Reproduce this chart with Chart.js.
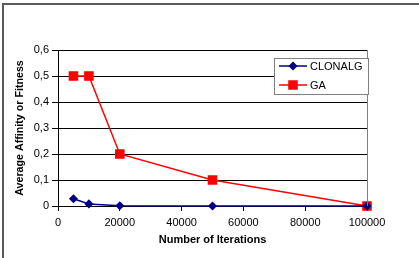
<!DOCTYPE html>
<html>
<head>
<meta charset="utf-8">
<script src="https://cdn.jsdelivr.net/npm/chart.js@4/dist/chart.umd.min.js"></script>
<style>
html,body{margin:0;padding:0;background:#fff;}
#wrap{position:relative;width:419px;height:258px;}
</style>
</head>
<body>
<div id="wrap"><canvas id="c" width="419" height="258"></canvas></div>
<script>
const iterations = [5000, 10000, 20000, 50000, 100000];
const clonalg = [0.028, 0.008, 0.001, 0.0, 0.0];
const ga = [0.5, 0.5, 0.2, 0.1, 0.0];
const seriesLabels = ['CLONALG', 'GA'];
const xTitle = 'Number of Iterations';
const yTitle = 'Average Affinity or Fitness';

const FONT = '"Liberation Sans", Arial, sans-serif';

const toPts = (xs, ys) => xs.map((x, i) => ({x: x, y: ys[i]}));

const framePlugin = {
  id: 'frame',
  beforeDraw(chart) {
    const ctx = chart.ctx;
    ctx.save();
    ctx.fillStyle = '#fff';
    ctx.fillRect(0, 0, chart.width, chart.height);
    ctx.strokeStyle = '#5a5a5a';
    ctx.lineWidth = 2;
    ctx.beginPath();
    ctx.moveTo(3, 258);
    ctx.lineTo(3, 4);
    ctx.lineTo(419, 4);
    ctx.stroke();
    ctx.restore();
  },
  afterDatasetsDraw(chart) {
    const ctx = chart.ctx;
    const a = chart.chartArea;
    ctx.save();
    ctx.strokeStyle = '#808080';
    ctx.lineWidth = 1;
    ctx.beginPath();
    ctx.moveTo(Math.round(a.right) + 0.5, a.top);
    ctx.lineTo(Math.round(a.right) + 0.5, a.bottom);
    ctx.stroke();
    // legend
    const bx = 274.5, by = 58.5, bw = 94, bh = 36;
    ctx.fillStyle = '#fff';
    ctx.fillRect(bx, by, bw, bh);
    ctx.strokeStyle = '#808080';
    ctx.strokeRect(bx, by, bw, bh);
    const ys = [66, 85];
    chart.data.datasets.forEach((ds, i) => {
      const y = ys[i];
      ctx.strokeStyle = ds.borderColor;
      ctx.lineWidth = 1.5;
      ctx.beginPath();
      ctx.moveTo(279, y);
      ctx.lineTo(307, y);
      ctx.stroke();
      Chart.helpers.drawPoint(ctx, {
        pointStyle: ds.pointStyle,
        radius: ds.pointRadius,
        borderWidth: 1,
        rotation: 0
      }, 293, y);
      ctx.fillStyle = ds.pointBackgroundColor;
      ctx.strokeStyle = ds.pointBorderColor;
      ctx.fill();
      ctx.fillStyle = '#000';
      ctx.font = '11px ' + FONT;
      ctx.textBaseline = 'middle';
      ctx.textAlign = 'left';
      ctx.fillText(ds.label, 310, y + 0.5);
    });
    ctx.restore();
  }
};

new Chart(document.getElementById('c'), {
  type: 'line',
  data: {
    datasets: [
      {
        label: seriesLabels[0],
        data: toPts(iterations, clonalg),
        borderColor: '#000080',
        backgroundColor: '#000080',
        pointBackgroundColor: '#000080',
        pointBorderColor: '#000080',
        pointStyle: 'rectRot',
        pointRadius: 3.5,
        borderWidth: 1.5,
        tension: 0,
        clip: false
      },
      {
        label: seriesLabels[1],
        data: toPts(iterations, ga),
        borderColor: '#ff0000',
        backgroundColor: '#ff0000',
        pointBackgroundColor: '#ff0000',
        pointBorderColor: '#ff0000',
        pointStyle: 'rect',
        pointRadius: 5.7,
        borderWidth: 1.5,
        tension: 0,
        clip: false
      }
    ]
  },
  options: {
    responsive: false,
    animation: false,
    devicePixelRatio: 1,
    layout: {padding: {left: 0, top: 50, right: 52, bottom: 0}},
    plugins: {legend: {display: false}, tooltip: {enabled: false}},
    scales: {
      x: {
        type: 'linear',
        min: 0,
        max: 100000,
        afterFit(s) { s.height = 52; },
        ticks: {
          stepSize: 20000,
          color: '#000',
          font: {family: FONT, size: 11},
          padding: 5,
          maxRotation: 0,
          callback: v => String(v)
        },
        grid: {drawOnChartArea: false, drawTicks: true, tickLength: 5, color: '#000'},
        border: {color: '#000', width: 1},
        title: {
          display: true,
          text: xTitle,
          color: '#000',
          font: {family: FONT, size: 11, weight: 'bold'},
          padding: {top: 0, bottom: 11}
        }
      },
      y: {
        min: 0,
        max: 0.6,
        afterFit(s) { s.width = 58; },
        ticks: {
          stepSize: 0.1,
          color: '#000',
          font: {family: FONT, size: 11},
          padding: 3,
          callback: v => (Math.round(v * 10) / 10).toString().replace('.', ',')
        },
        grid: {color: '#000', drawTicks: true, tickLength: 6, lineWidth: 1},
        border: {color: '#000', width: 1},
        title: {
          display: true,
          text: yTitle,
          color: '#000',
          font: {family: FONT, size: 10.7, weight: 'bold'},
          padding: {top: 14, bottom: 0}
        }
      }
    }
  },
  plugins: [framePlugin]
});
</script>
</body>
</html>
